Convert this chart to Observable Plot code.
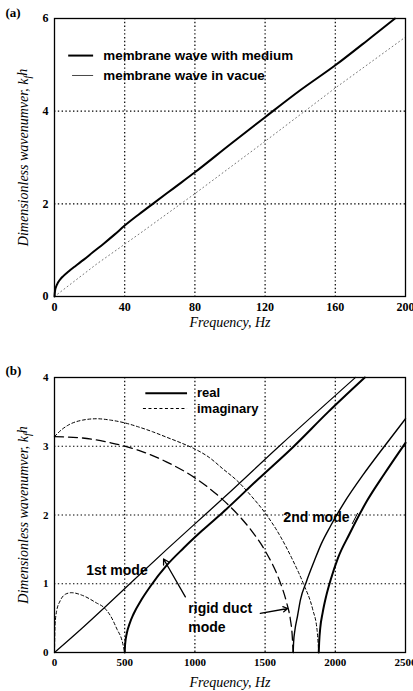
<!DOCTYPE html>
<html><head><meta charset="utf-8">
<script src="https://cdn.jsdelivr.net/npm/d3@7"></script>
<script src="https://cdn.jsdelivr.net/npm/@observablehq/plot@0.6"></script>
<style>
body{margin:0;background:#fff;}
#chart{width:413px;}
#chart svg{display:block;}
#chart svg g[aria-label="x-axis label"] text,
#chart svg g[aria-label="y-axis label"] text{font-style:italic;font-weight:normal;font-size:14px;}
</style></head><body><div id="chart"></div>
<script>
// ---------- Panel (a) data ----------
const xTicksA = [0, 40, 80, 120, 160, 200];
const yTicksA = [0, 2, 4, 6];
const xGridA = [40, 80, 120, 160];
const yGridA = [2, 4];
// membrane wave with medium: [frequency Hz, k h]
const withMedium = [[0,0],[0.3,0.12],[1,0.22],[2,0.3],[3.5,0.38],[5,0.44],[8,0.54],[12,0.66],[16.5,0.79],[22,0.96],[28,1.14],[34,1.33],[40,1.53],[48,1.77],[56,2.0],[68,2.34],[80,2.68],[100,3.28],[120,3.87],[140,4.45],[160,4.99],[180,5.58],[194,6.0]];
// membrane wave in vacuo
const inVacuo = [[0,0],[24,0.7],[49,1.37],[80,2.22],[120,3.35],[160,4.5],[200,5.6]];
const legendA = ["membrane wave with medium", "membrane wave in vacue"];

// ---------- Panel (b) data ----------
const xTicksB = [0, 500, 1000, 1500, 2000, 2500];
const yTicksB = [0, 1, 2, 3, 4];
const xGridB = [500, 1000, 1500, 2000];
const yGridB = [1, 2, 3];
// real parts
const real1st = [[0,0],[200,0.36],[349,0.64],[516,0.96],[800,1.5],[1070,2.0],[1205,2.25],[1600,3.0],[2143,4.0]];
const realFrom500 = [[500,0],[503,0.12],[515,0.28],[535,0.42],[563,0.56],[620,0.77],[682,0.96],[800,1.27],[920,1.52],[1050,1.77],[1200,2.04],[1450,2.52],[1700,2.99],[1950,3.5],[2210,4.0]];
const realFrom1700 = [[1700,0],[1703,0.15],[1712,0.32],[1730,0.52],[1752,0.77],[1794,1.03],[1850,1.33],[1900,1.58],[1966,1.84],[2060,2.17],[2200,2.59],[2350,3.0],[2500,3.4]];
const realFrom1882 = [[1882,0],[1885,0.15],[1893,0.36],[1910,0.58],[1935,0.82],[1966,1.05],[2020,1.38],[2100,1.72],[2227,2.21],[2350,2.6],[2500,3.05]];
// imaginary parts
const imagRigid = [[0,3.14],[200,3.12],[400,3.05],[600,2.94],[800,2.77],[1000,2.54],[1200,2.22],[1300,2.02],[1400,1.78],[1500,1.48],[1600,1.06],[1650,0.75],[1680,0.48],[1692,0.28],[1700,0]];
const imag2nd = [[0,3.14],[50,3.24],[100,3.31],[200,3.38],[300,3.4],[400,3.38],[500,3.34],[600,3.28],[700,3.21],[800,3.13],[900,3.05],[1000,2.96],[1100,2.84],[1200,2.67],[1300,2.5],[1400,2.28],[1500,2.03],[1600,1.72],[1700,1.33],[1773,1.0],[1840,0.62],[1870,0.33],[1882,0]];
const imag1st = [[0,0],[4,0.4],[15,0.6],[40,0.75],[80,0.85],[120,0.87],[200,0.83],[300,0.72],[349,0.66],[400,0.53],[445,0.34],[480,0.18],[500,0]];
const legendB = ["real", "imaginary"];
const modeLabels = ["1st mode", "2nd mode", "rigid duct", "mode"];

const xLabel = "Frequency, Hz";
const yLabel = "Dimensionless wavenumver, kfh";

const W = 413;
const baseStyle = {fontFamily: "'Liberation Serif', 'DejaVu Serif', serif", fontWeight: "bold", background: "white", color: "black"};
const gridStyle = {stroke: "black", strokeOpacity: 1, strokeWidth: 1.2, strokeDasharray: "1.4,2.4"};
const sans = "'Liberation Sans', Arial, sans-serif";
const X = d => d[0], Y = d => d[1];

function fixYLabel(svg) {
  const t = svg.querySelector('g[aria-label="y-axis label"] text');
  if (!t) return;
  const ns = "http://www.w3.org/2000/svg";
  const i = yLabel.lastIndexOf("k") + 1;
  t.textContent = "";
  const a = document.createElementNS(ns, "tspan"); a.textContent = yLabel.slice(0, i); t.appendChild(a);
  const b = document.createElementNS(ns, "tspan"); b.textContent = yLabel.slice(i, i + 1);
  b.setAttribute("dy", "0.3em"); b.setAttribute("font-size", "10px"); t.appendChild(b);
  const c = document.createElementNS(ns, "tspan"); c.textContent = yLabel.slice(i + 1);
  c.setAttribute("dy", "-0.3em"); t.appendChild(c);
}

// ---------- Panel (a) ----------
const plotA = Plot.plot({
  width: W, height: 330,
  marginLeft: 54, marginRight: 8, marginTop: 18, marginBottom: 34,
  style: {...baseStyle, fontSize: "12px"},
  x: {domain: [0, 200], ticks: xTicksA, tickSize: 0, tickPadding: 6, tickFormat: d => String(d),
      label: xLabel, labelAnchor: "center", labelArrow: "none", labelOffset: 30},
  y: {domain: [0, 6], ticks: yTicksA, tickSize: 0, tickPadding: 6, tickFormat: d => String(d),
      label: yLabel, labelAnchor: "center", labelArrow: "none", labelOffset: 36},
  marks: [
    Plot.ruleX(xGridA, gridStyle),
    Plot.ruleY(yGridA, gridStyle),
    Plot.line(inVacuo, {x: X, y: Y, stroke: "#777", strokeWidth: 1, strokeDasharray: "1,3"}),
    Plot.line(withMedium, {x: X, y: Y, stroke: "black", strokeWidth: 2, curve: "monotone-x"}),
    Plot.frame({stroke: "black", strokeWidth: 1.3}),
    // legend
    Plot.link([0], {x1: 7.8, x2: 22, y1: 5.2, y2: 5.2, stroke: "black", strokeWidth: 2}),
    Plot.link([0], {x1: 10, x2: 22, y1: 4.77, y2: 4.77, stroke: "#333", strokeWidth: 0.9}),
    Plot.text([legendA[0]], {x: 27.8, y: 5.2, text: d => d, textAnchor: "start", lineAnchor: "middle",
      fontFamily: sans, fontWeight: "bold", fontSize: 13.4}),
    Plot.text([legendA[1]], {x: 27.8, y: 4.77, text: d => d, textAnchor: "start", lineAnchor: "middle",
      fontFamily: sans, fontWeight: "bold", fontSize: 13.4}),
    Plot.text(["(a)"], {frameAnchor: "top-left", dx: -49, dy: -6, textAnchor: "start", lineAnchor: "middle",
      fontSize: 13, fontWeight: "bold"})
  ]
});
fixYLabel(plotA);

// ---------- Panel (b) ----------
const plotB = Plot.plot({
  width: W, height: 361,
  marginLeft: 54, marginRight: 8, marginTop: 47, marginBottom: 39,
  style: {...baseStyle, fontSize: "11px"},
  x: {domain: [0, 2500], ticks: xTicksB, tickSize: 0, tickPadding: 6, tickFormat: d => String(d),
      label: xLabel, labelAnchor: "center", labelArrow: "none", labelOffset: 34},
  y: {domain: [0, 4], ticks: yTicksB, tickSize: 0, tickPadding: 6, tickFormat: d => String(d),
      label: yLabel, labelAnchor: "center", labelArrow: "none", labelOffset: 36},
  marks: [
    Plot.ruleX(xGridB, gridStyle),
    Plot.ruleY(yGridB, gridStyle),
    Plot.line(imag1st, {x: X, y: Y, stroke: "black", strokeWidth: 1, strokeDasharray: "3,2.5", curve: "monotone-x"}),
    Plot.line(imag2nd, {x: X, y: Y, stroke: "black", strokeWidth: 1, strokeDasharray: "3,2.5", curve: "monotone-x"}),
    Plot.line(imagRigid, {x: X, y: Y, stroke: "black", strokeWidth: 1.3, strokeDasharray: "9,5", curve: "monotone-x"}),
    Plot.line(real1st, {x: X, y: Y, stroke: "black", strokeWidth: 1.2, curve: "monotone-x"}),
    Plot.line(realFrom500, {x: X, y: Y, stroke: "black", strokeWidth: 2, curve: "monotone-x"}),
    Plot.line(realFrom1700, {x: X, y: Y, stroke: "black", strokeWidth: 1.4, curve: "monotone-x"}),
    Plot.line(realFrom1882, {x: X, y: Y, stroke: "black", strokeWidth: 2, curve: "monotone-x"}),
    Plot.frame({stroke: "black", strokeWidth: 1.3}),
    // legend
    Plot.link([0], {x1: 647, x2: 944, y1: 3.77, y2: 3.77, stroke: "black", strokeWidth: 2}),
    Plot.link([0], {x1: 630, x2: 944, y1: 3.55, y2: 3.55, stroke: "black", strokeWidth: 1.1, strokeDasharray: "3,2.5"}),
    Plot.text([legendB[0]], {x: 1015, y: 3.77, text: d => d, textAnchor: "start", lineAnchor: "middle",
      fontFamily: sans, fontWeight: "bold", fontSize: 13}),
    Plot.text([legendB[1]], {x: 1015, y: 3.55, text: d => d, textAnchor: "start", lineAnchor: "middle",
      fontFamily: sans, fontWeight: "bold", fontSize: 13}),
    // annotations
    Plot.text([modeLabels[0]], {x: 226, y: 1.19, text: d => d, textAnchor: "start", lineAnchor: "middle",
      fontFamily: sans, fontWeight: "bold", fontSize: 14}),
    Plot.text([modeLabels[1]], {x: 1630, y: 1.97, text: d => d, textAnchor: "start", lineAnchor: "middle",
      fontFamily: sans, fontWeight: "bold", fontSize: 14}),
    Plot.text([modeLabels[2]], {x: 953, y: 0.64, text: d => d, textAnchor: "start", lineAnchor: "middle",
      fontFamily: sans, fontWeight: "bold", fontSize: 14}),
    Plot.text([modeLabels[3]], {x: 953, y: 0.37, text: d => d, textAnchor: "start", lineAnchor: "middle",
      fontFamily: sans, fontWeight: "bold", fontSize: 14}),
    Plot.link([0], {x1: 2120, y1: 1.87, x2: 2160, y2: 2.03, stroke: "black", strokeWidth: 1}),
    Plot.arrow([0], {x1: 932, y1: 0.81, x2: 777, y2: 1.36, bend: 0, headLength: 7, stroke: "black", strokeWidth: 1.3}),
    Plot.arrow([0], {x1: 1466, y1: 0.57, x2: 1661, y2: 0.64, bend: 0, headLength: 6, stroke: "black", strokeWidth: 1.3}),
    Plot.text(["(b)"], {frameAnchor: "top-left", dx: -49, dy: -7, textAnchor: "start", lineAnchor: "middle",
      fontSize: 13, fontWeight: "bold"})
  ]
});
fixYLabel(plotB);

const chart = document.getElementById("chart");
chart.appendChild(plotA);
chart.appendChild(plotB);
</script></body></html>
